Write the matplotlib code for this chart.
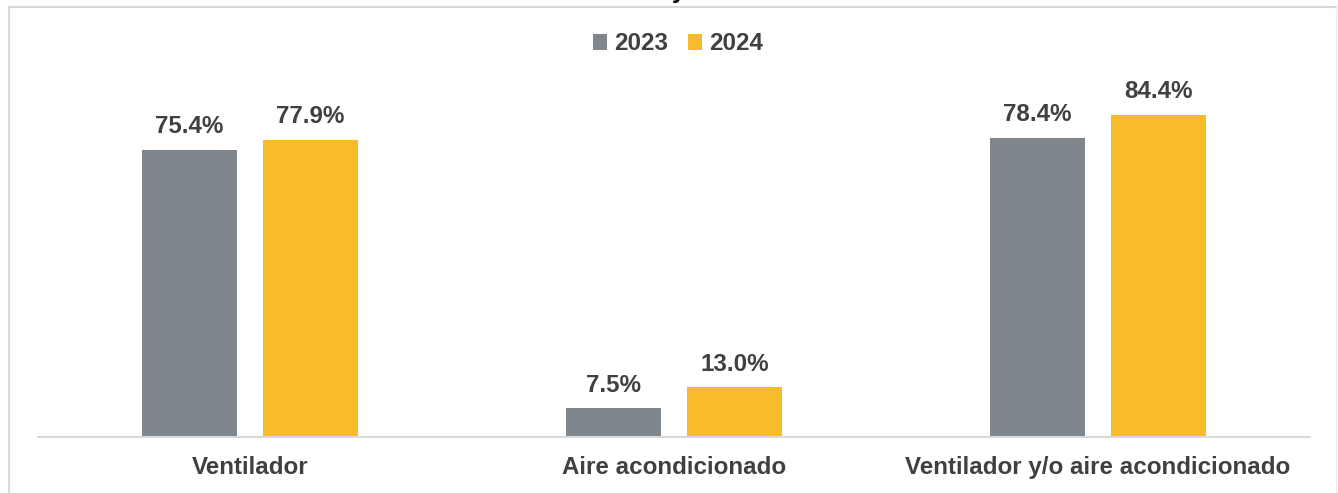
import matplotlib
matplotlib.use("Agg")
import matplotlib.pyplot as plt
from matplotlib.lines import Line2D
from matplotlib.patches import Patch
import numpy as np

categories = ["Ventilador", "Aire acondicionado", "Ventilador y/o aire acondicionado"]
series_names = ["2023", "2024"]
values_2023 = [75.4, 7.5, 78.4]
values_2024 = [77.9, 13.0, 84.4]

colors = ["#7F878C", "#F8BC2A"]
text_color = "#404040"
font = ["Liberation Sans", "DejaVu Sans"]
fs = 17.4

fig = plt.figure(figsize=(13.38, 4.93), dpi=100)
ax = fig.add_axes([38/1338, (493-437)/493, 1272/1338, 417/493])

x = np.arange(len(categories))
w = 0.224
off = (w + 0.061) / 2
for vals, col, sign in [(values_2023, colors[0], -1), (values_2024, colors[1], 1)]:
    bars = ax.bar(x + sign*off, vals, width=w, color=col, zorder=2)
    for b, v in zip(bars, vals):
        ax.annotate(f"{v:.1f}%", (b.get_x() + b.get_width()/2, v),
                    xytext=(0, 8.5), textcoords="offset points",
                    ha="center", va="bottom", fontsize=fs, fontweight="bold",
                    color=text_color, family=font)

ax.set_xlim(-0.5, 2.5)
ax.set_ylim(0, 109.4)
ax.set_yticks([])
ax.set_xticks(x)
ax.set_xticklabels(categories, fontsize=fs, fontweight="bold", color=text_color, family=font)
ax.tick_params(axis="x", length=0, pad=14)
for s in ["top", "right", "left"]:
    ax.spines[s].set_visible(False)
ax.spines["bottom"].set_color("#D9D9D9")
ax.spines["bottom"].set_linewidth(1.5)

handles = [Patch(facecolor=c, edgecolor="none") for c in colors]
leg = fig.legend(handles, series_names, loc="center", bbox_to_anchor=(678/1338, 1 - 44/493),
                 ncol=2, frameon=False, handlelength=0.6, handleheight=0.6,
                 handletextpad=0.3, columnspacing=0.8,
                 prop={"family": font, "weight": "bold", "size": fs})
for t in leg.get_texts():
    t.set_color(text_color)

# chart frame
fc = "#D9D9D9"
fig.add_artist(Line2D([9/1338, 1336/1338], [1 - 6.5/493, 1 - 6.5/493], color=fc, lw=1.5, transform=fig.transFigure))
fig.add_artist(Line2D([9/1338, 9/1338], [0, 1 - 6.5/493], color=fc, lw=1.5, transform=fig.transFigure))
fig.add_artist(Line2D([1336/1338, 1336/1338], [0, 1 - 6.5/493], color="#EEEEEE", lw=1, transform=fig.transFigure))

# clipped title descender (title lies above the visible area in the reference)
fig.text(678/1338, 1 + 2/493, "y", ha="center", va="baseline", fontsize=fs,
         fontweight="bold", color="#000000", family=font)

fig.savefig("out.png", dpi=100)
